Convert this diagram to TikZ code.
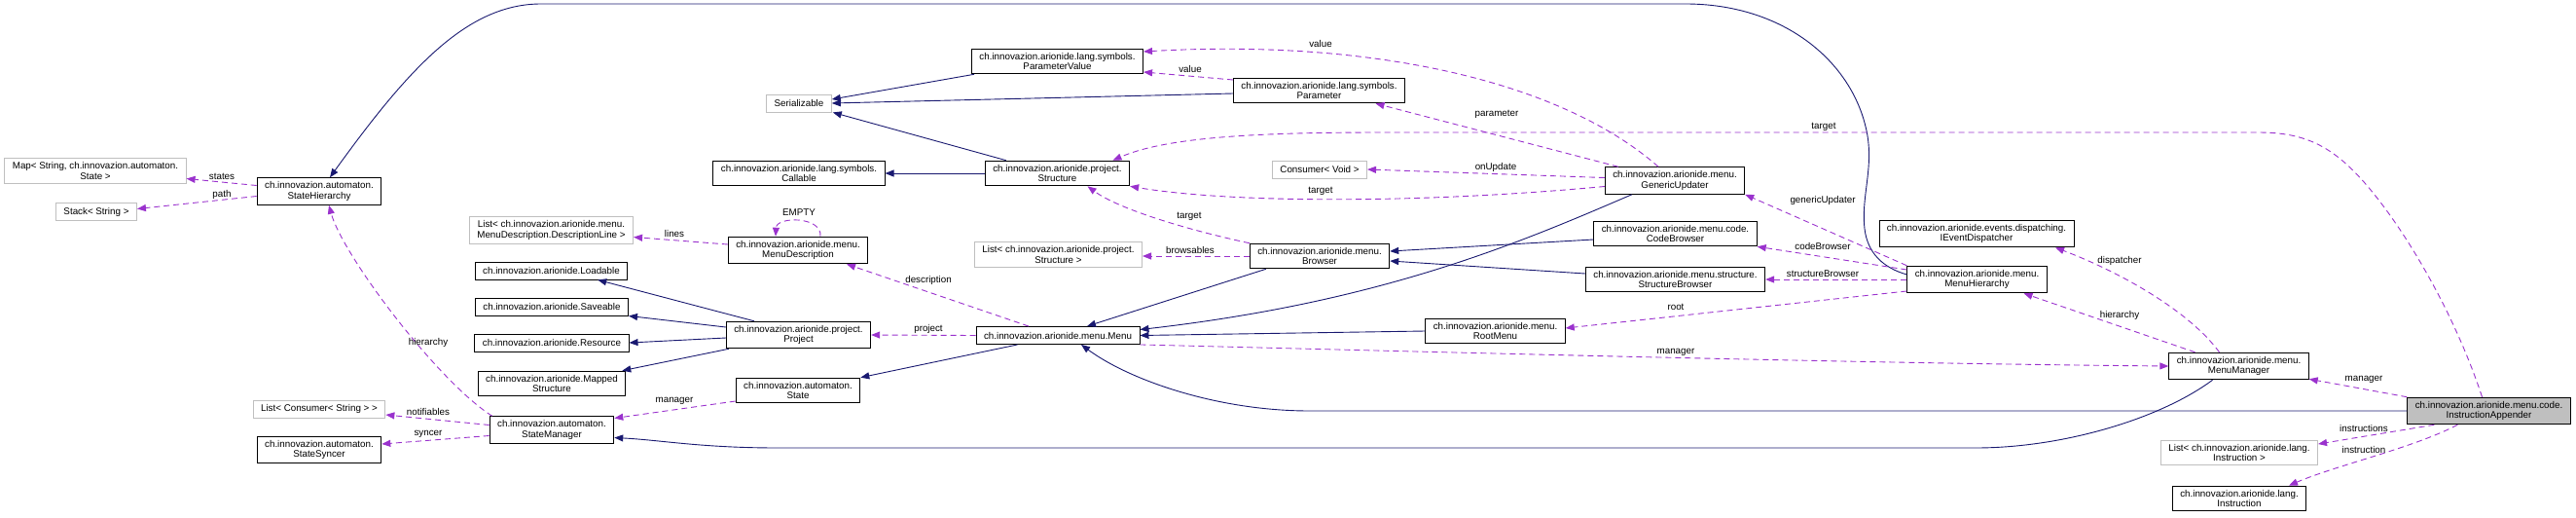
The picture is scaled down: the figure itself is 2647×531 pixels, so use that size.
\documentclass[tikz,border=0pt]{standalone}
\usepackage{fontspec}
\setmainfont{Liberation Sans}
\usetikzlibrary{arrows.meta}
\definecolor{dxInherit}{HTML}{191970}
\definecolor{dxUsage}{HTML}{9A32CD}
\definecolor{dxGrey}{HTML}{BFBFBF}

\tikzset{
  cls/.style={draw=black, line width=0.9pt, fill=white, align=center, inner xsep=8pt, inner ysep=4pt,
    minimum height=18pt, font=\fontsize{9.8}{10.5}\selectfont},
  extcls/.style={cls, draw=dxGrey},
  focuscls/.style={cls, fill=dxGrey},
  inhedge/.style={draw=dxInherit, line width=0.9pt, -{Triangle[length=9pt,width=7pt]}},
  useedge/.style={draw=dxUsage, line width=0.9pt, dash pattern=on 6pt off 4pt, -{Triangle[length=9pt,width=7pt]}},
  lbl/.style={font=\fontsize{9.8}{10.5}\selectfont, inner sep=1pt}
}

\begin{document}
\begin{tikzpicture}[x=1pt, y=-1pt]
    \useasboundingbox (0,0) rectangle (2647,531);

    % automaton classes
    \node[extcls] (map) at (98,175.5) {Map< String, ch.innovazion.automaton.\\State >};
    \node[extcls] (stk) at (99,217.5) {Stack< String >};
    \node[cls] (sh) at (328,196.5) {ch.innovazion.automaton.\\StateHierarchy};
    \node[extcls] (lcs) at (328,420) {List< Consumer< String > >};
    \node[cls] (ssy) at (328,462) {ch.innovazion.automaton.\\StateSyncer};
    \node[cls] (sm) at (567,441.5) {ch.innovazion.automaton.\\StateManager};
    \node[cls] (state) at (820,401) {ch.innovazion.automaton.\\State};

    % project and interfaces
    \node[extcls] (ldl) at (566.5,236.5) {List< ch.innovazion.arionide.menu.\\MenuDescription.DescriptionLine >};
    \node[cls] (ld) at (566.5,278) {ch.innovazion.arionide.Loadable};
    \node[cls] (sv) at (567,315) {ch.innovazion.arionide.Saveable};
    \node[cls] (rs) at (567,352) {ch.innovazion.arionide.Resource};
    \node[cls] (mp) at (567,394) {ch.innovazion.arionide.Mapped\\Structure};
    \node[cls] (md) at (820,257) {ch.innovazion.arionide.menu.\\MenuDescription};
    \node[cls] (pr) at (820.5,344) {ch.innovazion.arionide.project.\\Project};

    % symbols
    \node[extcls] (ser) at (821,106) {Serializable};
    \node[cls] (call) at (821,178) {ch.innovazion.arionide.lang.symbols.\\Callable};
    \node[cls] (pv) at (1086.5,63) {ch.innovazion.arionide.lang.symbols.\\ParameterValue};
    \node[cls] (st) at (1086.5,178) {ch.innovazion.arionide.project.\\Structure};
    \node[extcls] (lst) at (1087.5,261.5) {List< ch.innovazion.arionide.project.\\Structure >};
    \node[cls] (mn) at (1087,344.5) {ch.innovazion.arionide.menu.Menu};
    \node[cls] (pa) at (1355.5,93) {ch.innovazion.arionide.lang.symbols.\\Parameter};
    \node[extcls] (cv) at (1356,174) {Consumer< Void >};

    % menus
    \node[cls] (br) at (1356,263) {ch.innovazion.arionide.menu.\\Browser};
    \node[cls] (rm) at (1536.5,340) {ch.innovazion.arionide.menu.\\RootMenu};
    \node[cls] (gu) at (1721,185.5) {ch.innovazion.arionide.menu.\\GenericUpdater};
    \node[cls] (cb) at (1721.5,240) {ch.innovazion.arionide.menu.code.\\CodeBrowser};
    \node[cls] (sb) at (1721.5,287) {ch.innovazion.arionide.menu.structure.\\StructureBrowser};
    \node[cls] (ied) at (2031,240) {ch.innovazion.arionide.events.dispatching.\\IEventDispatcher};
    \node[cls] (mh) at (2031.5,287) {ch.innovazion.arionide.menu.\\MenuHierarchy};
    \node[cls] (mm) at (2300.5,376) {ch.innovazion.arionide.menu.\\MenuManager};
    \node[focuscls] (ia) at (2557.5,422) {ch.innovazion.arionide.menu.code.\\InstructionAppender};
    \node[extcls] (li) at (2301,465) {List< ch.innovazion.arionide.lang.\\Instruction >};
    \node[cls] (ins) at (2301,512) {ch.innovazion.arionide.lang.\\Instruction};

    % inheritance
    \draw[inhedge] (mh.176) .. controls (1935,275) and (1919,260) .. (1916,235)
        .. controls (1912,200) and (1927,170) .. (1917,130)
        .. controls (1900,60) and (1830,4) .. (1732,4) -- (556,4)
        .. controls (480,4) and (420,70) .. ([xshift=11pt]sh.north);
    \draw[inhedge] ([xshift=3pt]pv.south west) -- ([yshift=4pt]ser.east);
    \draw[inhedge] ([yshift=-3pt]pa.west) -- (ser.east);
    \draw[inhedge] ([xshift=22pt]st.north west) -- ([xshift=1pt]ser.south east);
    \draw[inhedge] (st.west) -- (call.east);
    \draw[inhedge] ([xshift=29pt]pr.north west) -- ([xshift=-31pt]ld.south east);
    \draw[inhedge] ([yshift=8pt]pr.west) -- (sv.south east);
    \draw[inhedge] ([yshift=-3pt]pr.west) -- (rs.east);
    \draw[inhedge] ([xshift=3pt]pr.south west) -- ([xshift=-4pt]mp.north east);
    \draw[inhedge] ([xshift=43pt]mn.south west) -- (state.north east);
    \draw[inhedge] ([xshift=17pt]br.south west) -- ([xshift=30pt]mn.north);
    \draw[inhedge] ([xshift=28pt]gu.south west) .. controls (1560,250) and (1420,310) .. ([yshift=6pt]mn.east);
    \draw[inhedge] (rm.west) -- (mn.east);
    \draw[inhedge] ([yshift=-6pt]cb.west) -- ([yshift=5pt]br.east);
    \draw[inhedge] ([yshift=6pt]sb.west) -- ([yshift=-5pt]br.east);
    \draw[inhedge] (ia.west) -- (1346,422) .. controls (1250,422) and (1160,390) .. ([xshift=24pt]mn.south);
    \draw[inhedge] ([xshift=-27pt]mm.south) .. controls (2220,430) and (2120,460) .. (2030,460)
        -- (800,460) .. controls (720,460) and (680,452) .. ([yshift=-8pt]sm.east);

    % usage
    \draw[useedge] ([yshift=6pt]sh.west) -- ([yshift=-8pt]map.east) node[lbl] at (228,181) {states};
    \draw[useedge] ([yshift=-5pt]sh.west) -- ([yshift=3pt]stk.east) node[lbl] at (228,200) {path};
    \draw[useedge] ([xshift=3pt]sm.north west) .. controls (450,392) and (352,262) .. ([xshift=10pt]sh.south)
        node[lbl] at (440,352) {hierarchy};
    \draw[useedge] ([yshift=5pt]sm.west) -- ([yshift=-6pt]lcs.east) node[lbl] at (440,423) {notifiables};
    \draw[useedge] ([yshift=-6pt]sm.west) -- ([yshift=6pt]ssy.east) node[lbl] at (440,446) {syncer};
    \draw[useedge] ([yshift=-11pt]state.west) -- ([yshift=12pt]sm.east) node[lbl] at (693,412) {manager};
    \draw[useedge] ([yshift=6pt]md.west) -- ([yshift=-7pt]ldl.east) node[lbl] at (693,240) {lines};
    \draw[useedge] ([xshift=23pt]md.north) .. controls (845,222) and (798,222) .. ([xshift=-23pt]md.north)
        node[lbl] at (821,218) {EMPTY};
    \draw[useedge] ([xshift=-30pt]mn.north) -- ([xshift=50pt]md.south) node[lbl] at (954,288) {description};
    \draw[useedge] (mn.west) -- (pr.east) node[lbl] at (954,338) {project};
    \draw[useedge] (br.north west) .. controls (1220,236) and (1150,215) .. ([xshift=31pt]st.south)
        node[lbl] at (1222,222) {target};
    \draw[useedge] (br.west) -- ([yshift=-1.5pt]lst.east) node[lbl] at (1223,257) {browsables};
    \draw[useedge] ([xshift=14pt]gu.north west) -- ([xshift=58pt]pa.south) node[lbl] at (1538,117) {parameter};
    \draw[useedge] ([xshift=-17pt]gu.north) .. controls (1600,80) and (1400,40) .. ([yshift=10pt]pv.east)
        node[lbl] at (1357,45) {value};
    \draw[useedge] ([yshift=11pt]pa.west) -- ([yshift=-11pt]pv.east) node[lbl] at (1223,71) {value};
    \draw[useedge] ([yshift=3pt]gu.west) -- (cv.east) node[lbl] at (1537,172) {onUpdate};
    \draw[useedge] ([yshift=-6pt]gu.west) .. controls (1450,210) and (1260,208) .. (st.south east)
        node[lbl] at (1357,196) {target};
    \draw[useedge] ([xshift=-7pt]ia.north) .. controls (2525,330) and (2480,250) .. (2440,200)
        .. controls (2400,150) and (2370,136) .. (2320,136) -- (1420,136)
        .. controls (1300,136) and (1200,140) .. ([xshift=57pt]st.north)
        node[lbl] at (1874,130) {target};
    \draw[useedge] (mh.north west) -- (gu.south east) node[lbl] at (1873,206) {genericUpdater};
    \draw[useedge] ([yshift=10pt]mh.west) -- (cb.south east) node[lbl] at (1873,253) {codeBrowser};
    \draw[useedge] (mh.west) -- (sb.east) node[lbl] at (1873,281) {structureBrowser};
    \draw[useedge] ([yshift=-12pt]mh.west) -- ([yshift=3pt]rm.east) node[lbl] at (1722,315) {root};
    \draw[useedge] (mn.south east) .. controls (1500,362) and (1900,373) .. (mm.west)
        node[lbl] at (1722,362) {manager};
    \draw[useedge] ([xshift=-20pt]mm.north) .. controls (2250,320) and (2180,280) .. ([xshift=81pt]ied.south)
        node[lbl] at (2178,268) {dispatcher};
    \draw[useedge] ([xshift=-45pt]mm.north) -- ([xshift=48pt]mh.south) node[lbl] at (2178,324) {hierarchy};
    \draw[useedge] (ia.north west) -- ([yshift=1pt]mm.south east) node[lbl] at (2429,390) {manager};
    \draw[useedge] ([xshift=28pt]ia.south west) -- ([yshift=9pt]li.east) node[lbl] at (2429,440) {instructions};
    \draw[useedge] ([xshift=52pt]ia.south west) .. controls (2480,460) and (2400,478) .. ([xshift=51pt]ins.north)
        node[lbl] at (2429,462) {instruction};
\end{tikzpicture}
\end{document}
